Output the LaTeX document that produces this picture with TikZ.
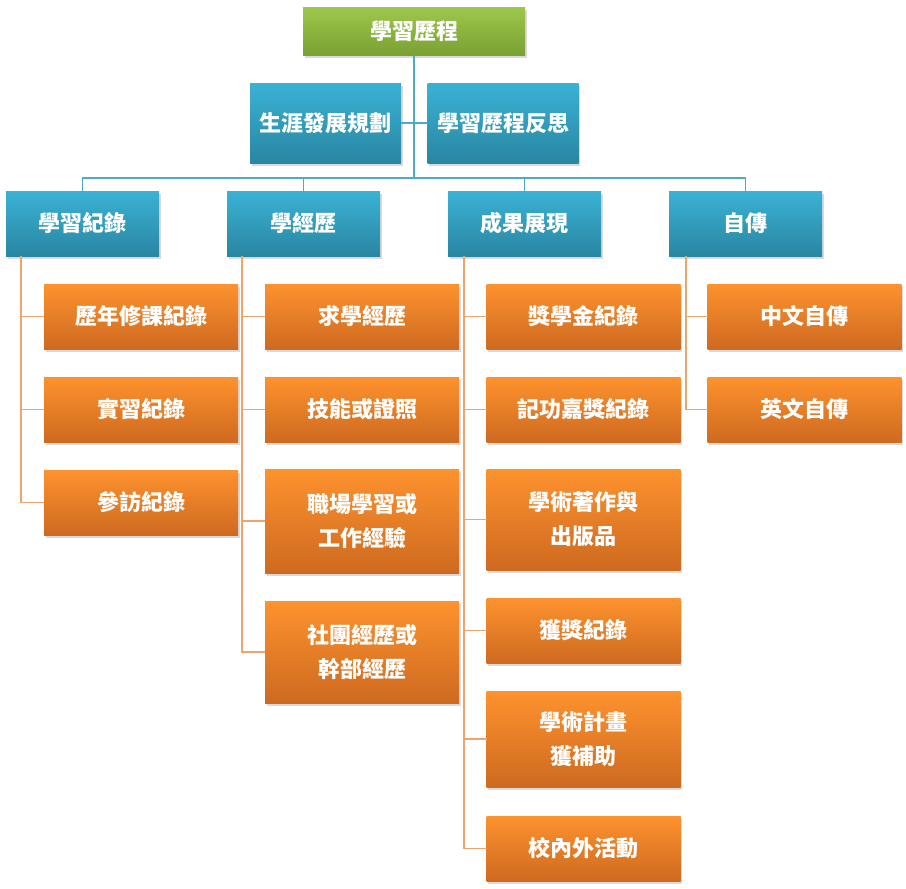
\documentclass[tikz,border=0pt]{standalone}
\usepackage{fontspec}
\setmainfont{Noto Sans CJK TC}
\usetikzlibrary{positioning,shadows}

\definecolor{blueT}{RGB}{58,178,213}
\definecolor{blueB}{RGB}{41,134,162}
\definecolor{orangeT}{RGB}{253,146,46}
\definecolor{orangeB}{RGB}{206,106,32}
\definecolor{greenT}{RGB}{157,200,75}
\definecolor{greenB}{RGB}{122,160,52}
\definecolor{bline}{RGB}{75,172,198}
\definecolor{oline}{RGB}{238,164,108}

\begin{document}
\begin{tikzpicture}[x=1pt,y=-1pt,
  font=\fontsize{22pt}{34pt}\selectfont\bfseries,
  card/.style={inner sep=0pt,outer sep=0pt,text=white,align=center,
    drop shadow={shadow xshift=1.5pt,shadow yshift=-2.5pt,opacity=.3}},
  root/.style={card,top color=greenT,bottom color=greenB,minimum width=222pt,minimum height=48pt},
  aux/.style={card,top color=blueT,bottom color=blueB,minimum width=151pt,minimum height=80pt},
  lvl/.style={card,top color=blueT,bottom color=blueB,minimum width=153pt,minimum height=65pt},
  item/.style={card,top color=orangeT,bottom color=orangeB,minimum width=194pt,minimum height=65pt},
  bflow/.style={draw=bline,line width=1.3pt},
  oflow/.style={draw=oline,line width=1.3pt}]
\useasboundingbox (0,0) rectangle (906,889);

% top and assistants
\node[root] (port) at (414,31) {學習歷程};
\node[aux] (plan) at (325.5,123) {生涯發展規劃};
\node[aux] (refl) at (503,123) {學習歷程反思};
\coordinate (bus) at (414,178);

% second level
\node[lvl] (rec) at (82.5,223.5) {學習紀錄};
\node[lvl] (exp) at (303.5,223.5) {學經歷};
\node[lvl] (res) at (524.5,223.5) {成果展現};
\node[lvl] (bio) at (745.5,223.5) {自傳};

% 學習紀錄
\node[item] (r1) at (141,316.5) {歷年修課紀錄};
\node[item,below=28pt of r1] (r2) {實習紀錄};
\node[item,below=28pt of r2] (r3) {參訪紀錄};

% 學經歷
\node[item] (e1) at (362,316.5) {求學經歷};
\node[item,below=28pt of e1] (e2) {技能或證照};
\node[item,below=27pt of e2,minimum height=104pt] (e3) {職場學習或\\工作經驗};
\node[item,below=28pt of e3,minimum height=102pt] (e4) {社團經歷或\\幹部經歷};

% 成果展現
\node[item] (s1) at (583.5,316.5) {獎學金紀錄};
\node[item,below=28pt of s1] (s2) {記功嘉獎紀錄};
\node[item,below=27pt of s2,minimum height=101pt] (s3) {學術著作與\\出版品};
\node[item,below=28pt of s3] (s4) {獲獎紀錄};
\node[item,below=28pt of s4,minimum height=96pt] (s5) {學術計畫\\獲補助};
\node[item,below=29pt of s5] (s6) {校內外活動};

% 自傳
\node[item] (b1) at (804.5,316.5) {中文自傳};
\node[item,below=28pt of b1] (b2) {英文自傳};

% connectors
\draw[bflow] (port) -- (bus);
\draw[bflow] (plan.east) -- (refl.west);
\foreach \n in {rec,exp,res,bio}
  \draw[bflow] (bus) -| (\n.north);
\foreach \n in {r1,r2,r3}
  \draw[oflow] ([xshift=15pt]rec.south west) |- (\n.west);
\foreach \n in {e1,e2,e3,e4}
  \draw[oflow] ([xshift=15pt]exp.south west) |- (\n.west);
\foreach \n in {s1,s2,s3,s4,s5,s6}
  \draw[oflow] ([xshift=16pt]res.south west) |- (\n.west);
\foreach \n in {b1,b2}
  \draw[oflow] ([xshift=17pt]bio.south west) |- (\n.west);
\end{tikzpicture}
\end{document}
